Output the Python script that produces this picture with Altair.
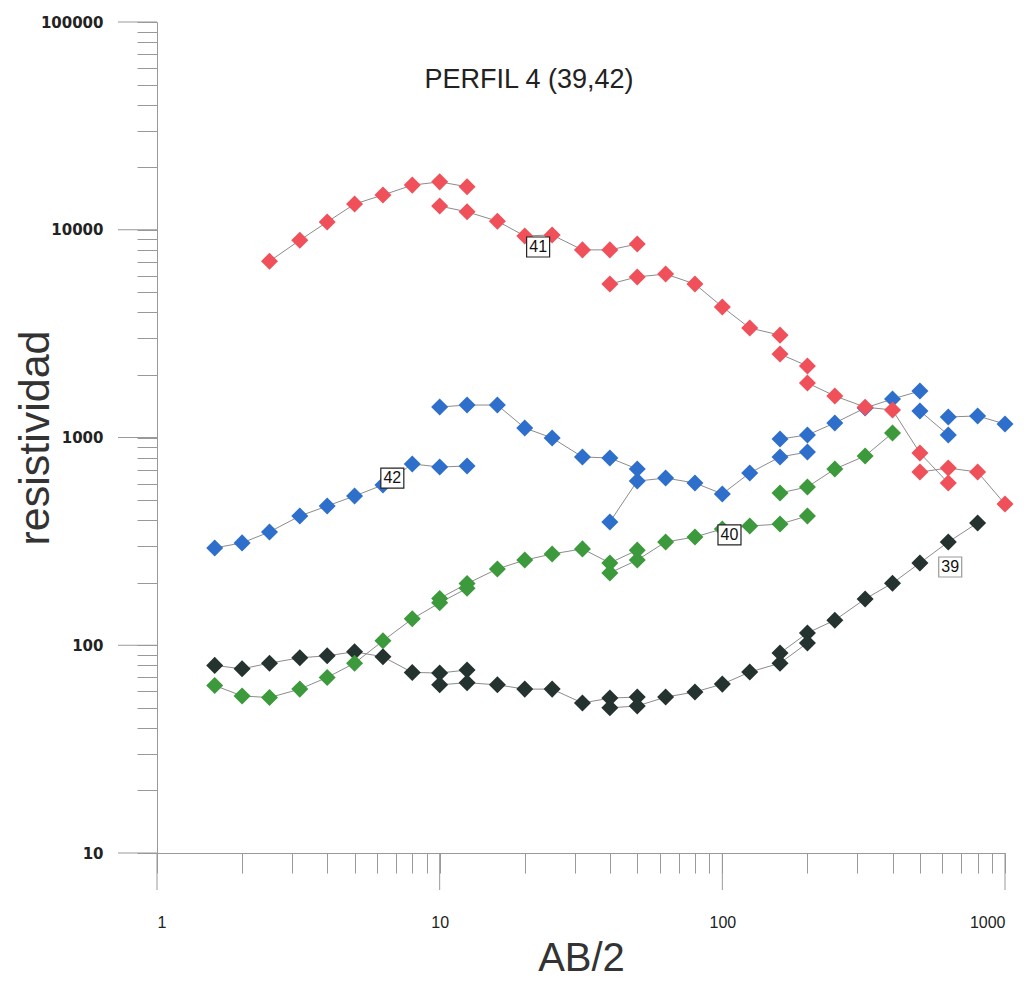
import altair as alt
import pandas as pd

# ---- data (AB/2, resistividad) per sounding, split in overlapping segments ----
s39_x1 = [1.6, 2, 2.5, 3.2, 4, 5, 6.3, 8, 10, 12.5]
s39_y1 = [80, 77, 82, 87, 89, 93, 88, 74, 73.5, 76]
s39_x2 = [10, 12.5, 16, 20, 25, 32, 40, 50]
s39_y2 = [64.5, 66, 64.5, 61.5, 61.5, 52.7, 55.7, 56.3]
s39_x3 = [40, 50, 63, 80, 100, 125, 160, 200]
s39_y3 = [50, 51, 56.3, 59.6, 65, 74.3, 82, 102.6]
s39_x4 = [160, 200, 250, 320, 400, 500, 630, 800]
s39_y4 = [91.7, 114.6, 132, 167, 199, 249, 314, 388]

s40_x1 = [1.6, 2, 2.5, 3.2, 4, 5, 6.3, 8, 10, 12.5]
s40_y1 = [64, 57, 56, 61.5, 70, 82, 105, 134, 160, 188]
s40_x2 = [10, 12.5, 16, 20, 25, 32, 40, 50]
s40_y2 = [168, 198, 233, 257, 275, 291, 249, 287]
s40_x3 = [40, 50, 63, 80, 100, 125, 160, 200]
s40_y3 = [223, 257, 314, 332, 363, 375, 383, 419]
s40_x4 = [160, 200, 250, 320, 400]
s40_y4 = [541, 578, 705, 815, 1051]

s41_x1 = [2.5, 3.2, 4, 5, 6.3, 8, 10, 12.5]
s41_y1 = [7050, 8900, 10900, 13300, 14700, 16400, 17000, 16100]
s41_x2 = [10, 12.5, 16, 20, 25, 32, 40, 50]
s41_y2 = [13000, 12200, 11000, 9330, 9440, 8000, 8000, 8540]
s41_x3 = [40, 50, 63, 80, 100, 125, 160]
s41_y3 = [5480, 5930, 6120, 5480, 4250, 3365, 3110]
s41_x4 = [160, 200]
s41_y4 = [2520, 2210]
s41_x5 = [200, 250, 320, 400, 500, 630]
s41_y5 = [1830, 1585, 1400, 1357, 842, 604]
s41_x6 = [500, 630, 800, 1000]
s41_y6 = [682, 713, 682, 478]

s42_x1 = [1.6, 2, 2.5, 3.2, 4, 5, 6.3, 8, 10, 12.5]
s42_y1 = [294, 311, 351, 419, 468, 523, 591, 746, 721, 729]
s42_x2 = [10, 12.5, 16, 20, 25, 32, 40, 50]
s42_y2 = [1402, 1433, 1433, 1111, 995, 806, 797, 705]
s42_x3 = [40, 50, 63, 80, 100, 125, 160, 200]
s42_y3 = [392, 617, 638, 604, 535, 675, 806, 851]
s42_x4 = [160, 200, 250, 320, 400, 500]
s42_y4 = [984, 1028, 1175, 1387, 1532, 1674]
s42_x5 = [500, 630]
s42_y5 = [1342, 1028]
s42_x6 = [630, 800, 1000]
s42_y6 = [1255, 1270, 1161]

series_names = ["39", "40", "42", "41"]  # drawing order
series_colors = ["#24332f", "#3c9a3c", "#2f6fcc", "#f0505a"]

label_text = ["39", "40", "41", "42"]
label_x = [640, 106, 22.3, 6.8]
label_y = [238, 340, 8260, 638]

x_ticks = [1, 2, 3, 4, 5, 6, 7, 8, 9, 10, 20, 30, 40, 50, 60, 70, 80, 90,
           100, 200, 300, 400, 500, 600, 700, 800, 900, 1000]
x_major = [1, 10, 100, 1000]
y_ticks = [10, 20, 30, 40, 50, 60, 70, 80, 90, 100, 200, 300, 400, 500, 600, 700, 800, 900,
           1000, 2000, 3000, 4000, 5000, 6000, 7000, 8000, 9000, 10000, 20000, 30000, 40000,
           50000, 60000, 70000, 80000, 90000, 100000]
y_major = [10, 100, 1000, 10000, 100000]

segments = {
    "39": [(s39_x1, s39_y1), (s39_x2, s39_y2), (s39_x3, s39_y3), (s39_x4, s39_y4)],
    "40": [(s40_x1, s40_y1), (s40_x2, s40_y2), (s40_x3, s40_y3), (s40_x4, s40_y4)],
    "42": [(s42_x1, s42_y1), (s42_x2, s42_y2), (s42_x3, s42_y3), (s42_x4, s42_y4),
           (s42_x5, s42_y5), (s42_x6, s42_y6)],
    "41": [(s41_x1, s41_y1), (s41_x2, s41_y2), (s41_x3, s41_y3), (s41_x4, s41_y4),
           (s41_x5, s41_y5), (s41_x6, s41_y6)],
}

rows = []
for name in series_names:
    for si, (xs, ys) in enumerate(segments[name]):
        for i, (xv, yv) in enumerate(zip(xs, ys)):
            rows.append({"serie": name, "seg": f"{name}-{si}", "ord": i, "x": xv, "y": yv})
df = pd.DataFrame(rows)

labels_df = pd.DataFrame({"label": label_text, "x": label_x, "y": label_y})
xmaj_df = pd.DataFrame({"x": x_major})
ymaj_df = pd.DataFrame({"y": y_major})

W, H = 848, 831
xscale = alt.Scale(type="log", domain=[1, 1000], nice=False)
yscale = alt.Scale(type="log", domain=[10, 100000], nice=False)

xaxis = alt.Axis(
    values=x_ticks,
    labelExpr="(datum.value == 1 || datum.value == 10 || datum.value == 100 || datum.value == 1000) ? datum.label : ''",
    labelFont="Liberation Sans", labelFontSize=16, labelColor="#222",
    labelPadding=41,
    title="AB/2", titleFont="Liberation Sans", titleFontSize=40,
    titleFontWeight="normal", titleColor="#333",
    titleY=117, titleBaseline="alphabetic",
    grid=False, domainColor="#999", tickColor="#999", tickSize=20, format="d",
)
yaxis = alt.Axis(
    values=y_ticks,
    labelExpr="(datum.value == 10 || datum.value == 100 || datum.value == 1000 || datum.value == 10000 || datum.value == 100000) ? datum.label : ''",
    labelFont="DejaVu Sans", labelFontSize=15, labelFontWeight="bold", labelColor="#222",
    labelPadding=34,
    title="resistividad", titleFont="Liberation Sans", titleFontSize=43,
    titleFontWeight="normal", titleColor="#333",
    titleX=-109, titleBaseline="alphabetic",
    grid=False, domainColor="#999", tickColor="#999", tickSize=20, format="d",
)

X = alt.X("x:Q", scale=xscale, axis=xaxis, title="AB/2")
Y = alt.Y("y:Q", scale=yscale, axis=yaxis, title="resistividad")

lines = alt.Chart(df).mark_line(color="#8c8c8c", strokeWidth=1).encode(
    x=X, y=Y, detail="seg:N", order="ord:Q",
)

points = alt.Chart(df).mark_point(shape="diamond", filled=True, size=290, opacity=1).encode(
    x=X, y=Y,
    color=alt.Color("serie:N", scale=alt.Scale(domain=series_names, range=series_colors), legend=None),
)

xmaj = alt.Chart(xmaj_df).mark_rule(color="#999", strokeWidth=1).encode(
    x=X, y=alt.value(H), y2=alt.value(H + 37),
)
ymaj = alt.Chart(ymaj_df).mark_rule(color="#999", strokeWidth=1).encode(
    y=Y, x=alt.value(0), x2=alt.value(-39),
)

boxes = alt.Chart(labels_df).mark_point(
    shape="M-1.15,-1H1.15V1H-1.15Z", size=400, filled=True, fill="white", strokeWidth=1.2, opacity=1
).encode(
    x=X, y=Y,
    stroke=alt.condition(alt.datum.label == "39", alt.value("#9a9a9a"), alt.value("#222222")),
)
texts = alt.Chart(labels_df).mark_text(
    font="Liberation Sans", fontSize=16, color="#111", baseline="middle", align="center"
).encode(
    x=X, y=Y, text="label:N",
)

chart = alt.layer(lines, points, xmaj, ymaj, boxes, texts).properties(
    width=W,
    height=H,
    title=alt.TitleParams(
        "PERFIL 4 (39,42)", font="Liberation Sans", fontSize=27, fontWeight="normal",
        color="#222", anchor="middle", frame="group", dx=-52, offset=-106, baseline="bottom",
    ),
    autosize=alt.AutoSizeParams(type="none"),
    padding={"left": 157, "top": 22, "right": 25, "bottom": 128},
).configure_view(strokeWidth=0)

chart.save("out.html", embed_options={"renderer": "svg", "actions": False})
